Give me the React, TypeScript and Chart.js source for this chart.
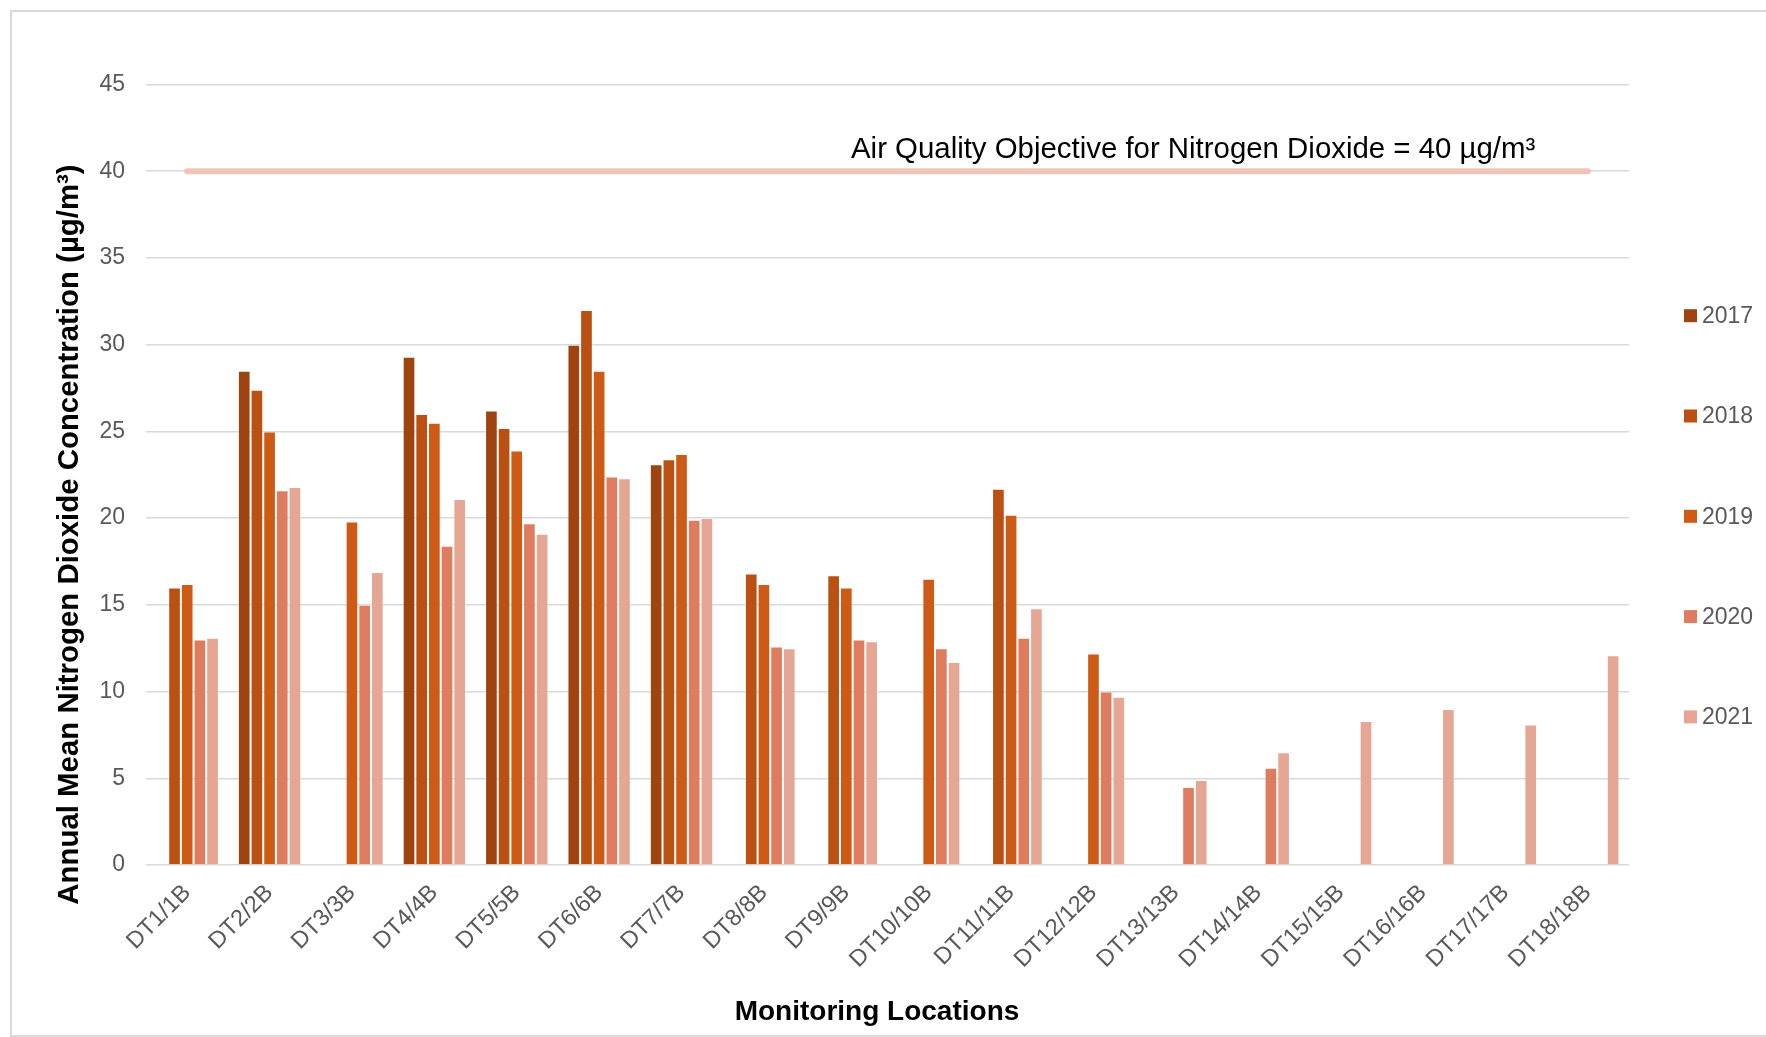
import React, { useEffect, useRef } from "react";
import { Chart, registerables } from "chart.js";

Chart.register(...registerables);

const categories = [
  "DT1/1B", "DT2/2B", "DT3/3B", "DT4/4B", "DT5/5B", "DT6/6B", "DT7/7B", "DT8/8B", "DT9/9B",
  "DT10/10B", "DT11/11B", "DT12/12B", "DT13/13B", "DT14/14B", "DT15/15B", "DT16/16B", "DT17/17B", "DT18/18B",
];

const years = ["2017", "2018", "2019", "2020", "2021"];

const values2017 = [null, 28.5, null, 29.3, 26.2, 30.0, 23.1, null, null, null, null, null, null, null, null, null, null, null];
const values2018 = [16.0, 27.4, null, 26.0, 25.2, 32.0, 23.4, 16.8, 16.7, null, 21.7, null, null, null, null, null, null, null];
const values2019 = [16.2, 25.0, 19.8, 25.5, 23.9, 28.5, 23.7, 16.2, 16.0, 16.5, 20.2, 12.2, null, null, null, null, null, null];
const values2020 = [13.0, 21.6, 15.0, 18.4, 19.7, 22.4, 19.9, 12.6, 13.0, 12.5, 13.1, 10.0, 4.5, 5.6, null, null, null, null];
const values2021 = [13.1, 21.8, 16.9, 21.1, 19.1, 22.3, 20.0, 12.5, 12.9, 11.7, 14.8, 9.7, 4.9, 6.5, 8.3, 9.0, 8.1, 12.1];

const objectiveValues = [40, 40, 40, 40, 40, 40, 40, 40, 40, 40, 40, 40, 40, 40, 40, 40, 40, 40];
const objectiveLabel = "Air Quality Objective for Nitrogen Dioxide = 40 µg/m³";

const yTicks = { min: 0, max: 45, step: 5 };
const yTitle = "Annual Mean Nitrogen Dioxide Concentration (µg/m³)";
const xTitle = "Monitoring Locations";

const seriesColors = ["#9F4410", "#BA5012", "#CE5B15", "#DF7C5F", "#E6A694"];
const FONT = '"Liberation Sans", Arial, Helvetica, sans-serif';

const overlayPlugin = {
  id: "overlay",
  afterDraw(chart: any) {
    const { ctx, chartArea, scales } = chart;
    const y = scales.y;
    ctx.save();
    // Objective annotation
    ctx.fillStyle = "#000000";
    ctx.font = `29.4px ${FONT}`;
    ctx.textAlign = "left";
    ctx.textBaseline = "alphabetic";
    ctx.fillText(objectiveLabel, chartArea.left + 705, y.getPixelForValue(40) - 13);

    // Y axis title
    ctx.save();
    ctx.translate(58, 522.5);
    ctx.rotate(-Math.PI / 2);
    ctx.font = `bold 29.4px ${FONT}`;
    ctx.textAlign = "center";
    ctx.textBaseline = "middle";
    ctx.fillText(yTitle, 0, 0);
    ctx.restore();

    // X axis title
    ctx.font = `bold 28px ${FONT}`;
    ctx.textAlign = "center";
    ctx.textBaseline = "alphabetic";
    ctx.fillText(xTitle, 865, 1008);

    // Legend
    const bars = chart.data.datasets.filter((d: any) => d.type !== "line");
    ctx.font = `23px ${FONT}`;
    ctx.textAlign = "left";
    ctx.textBaseline = "middle";
    bars.forEach((d: any, i: number) => {
      const cy = chartArea.top + 231.2 + i * 100.3;
      const bx = chartArea.right + 55;
      ctx.fillStyle = d.backgroundColor;
      ctx.fillRect(bx, cy - 6.5, 13, 13);
      ctx.fillStyle = "#595959";
      ctx.fillText(d.label, bx + 18, cy + 1);
    });
    ctx.restore();
  },
};

export default function App() {
  const canvasRef = useRef<HTMLCanvasElement | null>(null);

  useEffect(() => {
    const canvas = canvasRef.current;
    if (!canvas) return;
    const seriesValues = [values2017, values2018, values2019, values2020, values2021];
    const chart = new Chart(canvas, {
      type: "bar",
      data: {
        labels: categories,
        datasets: [
          {
            type: "line",
            label: "Objective",
            data: objectiveValues,
            borderColor: "#F0C4B8",
            backgroundColor: "#F0C4B8",
            borderWidth: 6,
            borderCapStyle: "round",
            pointRadius: 0,
            pointHoverRadius: 0,
            tension: 0,
            fill: false,
          } as any,
          ...years.map((yr, i) => ({
            type: "bar",
            label: yr,
            data: seriesValues[i],
            backgroundColor: seriesColors[i],
            borderColor: "rgba(255,255,255,0.35)",
            borderWidth: 1,
            categoryPercentage: 0.769,
            barPercentage: 1,
          })),
        ],
      },
      options: {
        responsive: false,
        animation: false,
        devicePixelRatio: 1,
        layout: { padding: { top: 72.5, right: 137, left: 0, bottom: 0 } },
        plugins: {
          legend: { display: false },
          tooltip: { enabled: false },
          title: { display: false },
        },
        scales: {
          x: {
            grid: { display: false, drawTicks: false },
            border: { display: false },
            ticks: {
              color: "#595959",
              font: { family: FONT, size: 23.5 },
              minRotation: 45,
              maxRotation: 45,
              autoSkip: false,
              padding: 14,
            },
            afterFit: (scale: any) => {
              scale.height = 170;
            },
          },
          y: {
            min: yTicks.min,
            max: yTicks.max,
            grid: { color: "#D9D9D9", lineWidth: 1.5, drawTicks: false },
            border: { display: false },
            ticks: {
              stepSize: yTicks.step,
              color: "#595959",
              font: { family: FONT, size: 23 },
              padding: 21,
            },
            afterFit: (scale: any) => {
              scale.width = 134;
            },
          },
        },
      } as any,
      plugins: [overlayPlugin],
    });
    return () => chart.destroy();
  }, []);

  return (
    <div
      style={{
        position: "absolute",
        left: 10,
        top: 10,
        width: 1756,
        height: 1027,
        boxSizing: "border-box",
        borderTop: "2px solid #D9D9D9",
        borderLeft: "2px solid #D9D9D9",
        borderBottom: "2px solid #D9D9D9",
        background: "#FFFFFF",
        overflow: "hidden",
      }}
    >
      <canvas ref={canvasRef} width={1754} height={1023} style={{ display: "block" }} />
    </div>
  );
}
